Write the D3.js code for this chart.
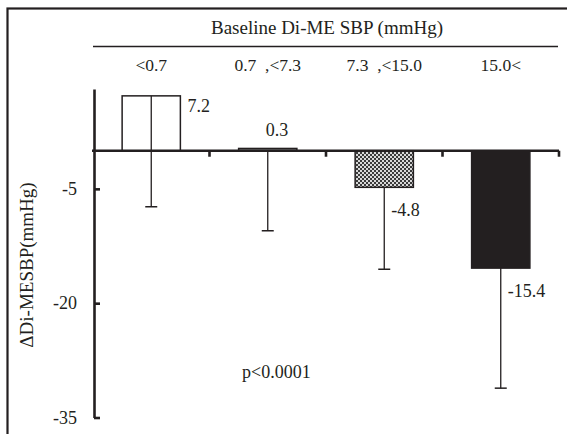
<!DOCTYPE html>
<html>
<head>
<meta charset="utf-8">
<script src="https://cdn.jsdelivr.net/npm/d3@7"></script>
<style>
  body { margin:0; background:#fff; }
  svg text { font-family: 'Liberation Serif', 'DejaVu Serif', serif !important; fill:#231f20; }
</style>
</head>
<body>
<div id="chart"></div>
<script>
// baseline Di-ME SBP groups
let groups = ["<0.7", "0.7  ,<7.3", "7.3  ,<15.0", "15.0<"],
    changes = [7.2, 0.3, -4.8, -15.4],
    sds = [14.55, 10.8, 10.75, 15.75],
    yTicks = [-5, -20, -35];

let width = 567, height = 434,
    ink = "#231f20",
    serif = "'Liberation Serif', 'DejaVu Serif', serif";

let svg = d3.select("#chart").append("svg")
            .attr("width", width)
            .attr("height", height)
            .attr("font-family", serif);

let defs = svg.append("defs");
let pat = defs.append("pattern")
              .attr("id", "dots")
              .attr("width", 4).attr("height", 4)
              .attr("patternUnits", "userSpaceOnUse");
pat.append("rect").attr("width", 4).attr("height", 4).attr("fill", "#d8d8d8");
pat.append("rect").attr("width", 2).attr("height", 2).attr("fill", "#3a3a3a");
pat.append("rect").attr("x", 2).attr("y", 2).attr("width", 2).attr("height", 2).attr("fill", "#3a3a3a");

// frame (runs off the right and bottom edge)
svg.append("rect")
   .attr("x", 7.5).attr("y", 8.5)
   .attr("width", 700).attr("height", 600)
   .attr("fill", "none").attr("stroke", ink).attr("stroke-width", 2.2);

let xScale = d3.scaleBand()
               .domain(groups)
               .range([93, 559])
               .paddingInner(0.5)
               .paddingOuter(0.25);

let yScale = d3.scaleLinear()
               .domain([-35, 8.1])
               .range([417.5, 89]);

let fills = ["none", "#8a8a8a", "url(#dots)", ink];

// header
svg.append("text")
   .attr("x", 327).attr("y", 34)
   .attr("text-anchor", "middle")
   .style("font-size", "19px")
   .text("Baseline Di-ME SBP (mmHg)");
svg.append("line")
   .attr("x1", 93).attr("x2", 558)
   .attr("y1", 46.5).attr("y2", 46.5)
   .attr("stroke", ink).attr("stroke-width", 1.5);
svg.append("g").selectAll("text").data(groups)
   .enter().append("text")
   .attr("x", d => xScale(d) + xScale.bandwidth() / 2)
   .attr("y", 71)
   .attr("text-anchor", "middle")
   .style("font-size", "17.5px")
   .style("white-space", "pre")
   .text(d => d);

// y axis
let yAxis = d3.axisLeft(yScale)
              .tickValues(yTicks)
              .tickSizeInner(-6)
              .tickSizeOuter(0)
              .tickPadding(17)
              .tickFormat(d => String(d));
let yGuide = svg.append("g")
                .attr("transform", "translate(94,0)")
                .call(yAxis)
                .attr("font-family", serif);
yGuide.select(".domain").attr("stroke", ink).attr("stroke-width", 2.6);
yGuide.selectAll(".tick line").attr("stroke", ink).attr("stroke-width", 2.6);
yGuide.selectAll(".tick text")
      .style("font-size", "18px")
      .attr("fill", ink);

svg.append("text")
   .attr("transform", "translate(33,265) rotate(-90)")
   .attr("text-anchor", "middle")
   .style("font-size", "19px")
   .text("\u0394Di-MESBP(mmHg)");

// error bars (drawn under the bars)
let cx = d => xScale(d) + xScale.bandwidth() / 2;
let errs = svg.append("g").selectAll("g").data(groups)
              .enter().append("g");
errs.append("line")
    .attr("x1", cx).attr("x2", cx)
    .attr("y1", (d, i) => yScale(changes[i]))
    .attr("y2", (d, i) => yScale(changes[i] - sds[i]))
    .attr("stroke", ink).attr("stroke-width", 1.3);
errs.append("line")
    .attr("x1", d => cx(d) - 6).attr("x2", d => cx(d) + 6)
    .attr("y1", (d, i) => yScale(changes[i] - sds[i]))
    .attr("y2", (d, i) => yScale(changes[i] - sds[i]))
    .attr("stroke", ink).attr("stroke-width", 1.5);

// bars
svg.append("g").selectAll("rect").data(groups)
   .enter().append("rect")
   .attr("x", d => xScale(d))
   .attr("width", xScale.bandwidth())
   .attr("y", (d, i) => Math.min(yScale(0), yScale(changes[i])))
   .attr("height", (d, i) => Math.abs(yScale(changes[i]) - yScale(0)))
   .attr("fill", (d, i) => fills[i])
   .attr("stroke", ink)
   .attr("stroke-width", 1.5);

// zero line with ticks between groups
let zeroY = yScale(0);
svg.append("line")
   .attr("x1", 92).attr("x2", 559)
   .attr("y1", zeroY).attr("y2", zeroY)
   .attr("stroke", ink).attr("stroke-width", 2.6);
svg.append("g").selectAll("line").data(groups)
   .enter().append("line")
   .attr("x1", d => xScale(d) + xScale.step() * 0.75)
   .attr("x2", d => xScale(d) + xScale.step() * 0.75)
   .attr("y1", zeroY).attr("y2", zeroY + 6)
   .attr("stroke", ink).attr("stroke-width", 2.6);

// value labels
svg.append("g").selectAll("text").data(groups)
   .enter().append("text")
   .style("font-size", "18px")
   .attr("x", (d, i) => {
     let v = changes[i];
     if (v > 1) return xScale(d) + xScale.bandwidth() + 7;
     if (v >= 0) return cx(d) - 2;
     return cx(d) + 7;
   })
   .attr("y", (d, i) => {
     let v = changes[i];
     if (v > 1) return yScale(v) + 16;
     if (v >= 0) return yScale(v) - 12;
     return yScale(v) + 29;
   })
   .text((d, i) => changes[i].toFixed(1));

svg.append("text")
   .attr("x", 242).attr("y", yScale(-29.8))
   .style("font-size", "18px")
   .text("p<0.0001");
</script>
</body>
</html>
